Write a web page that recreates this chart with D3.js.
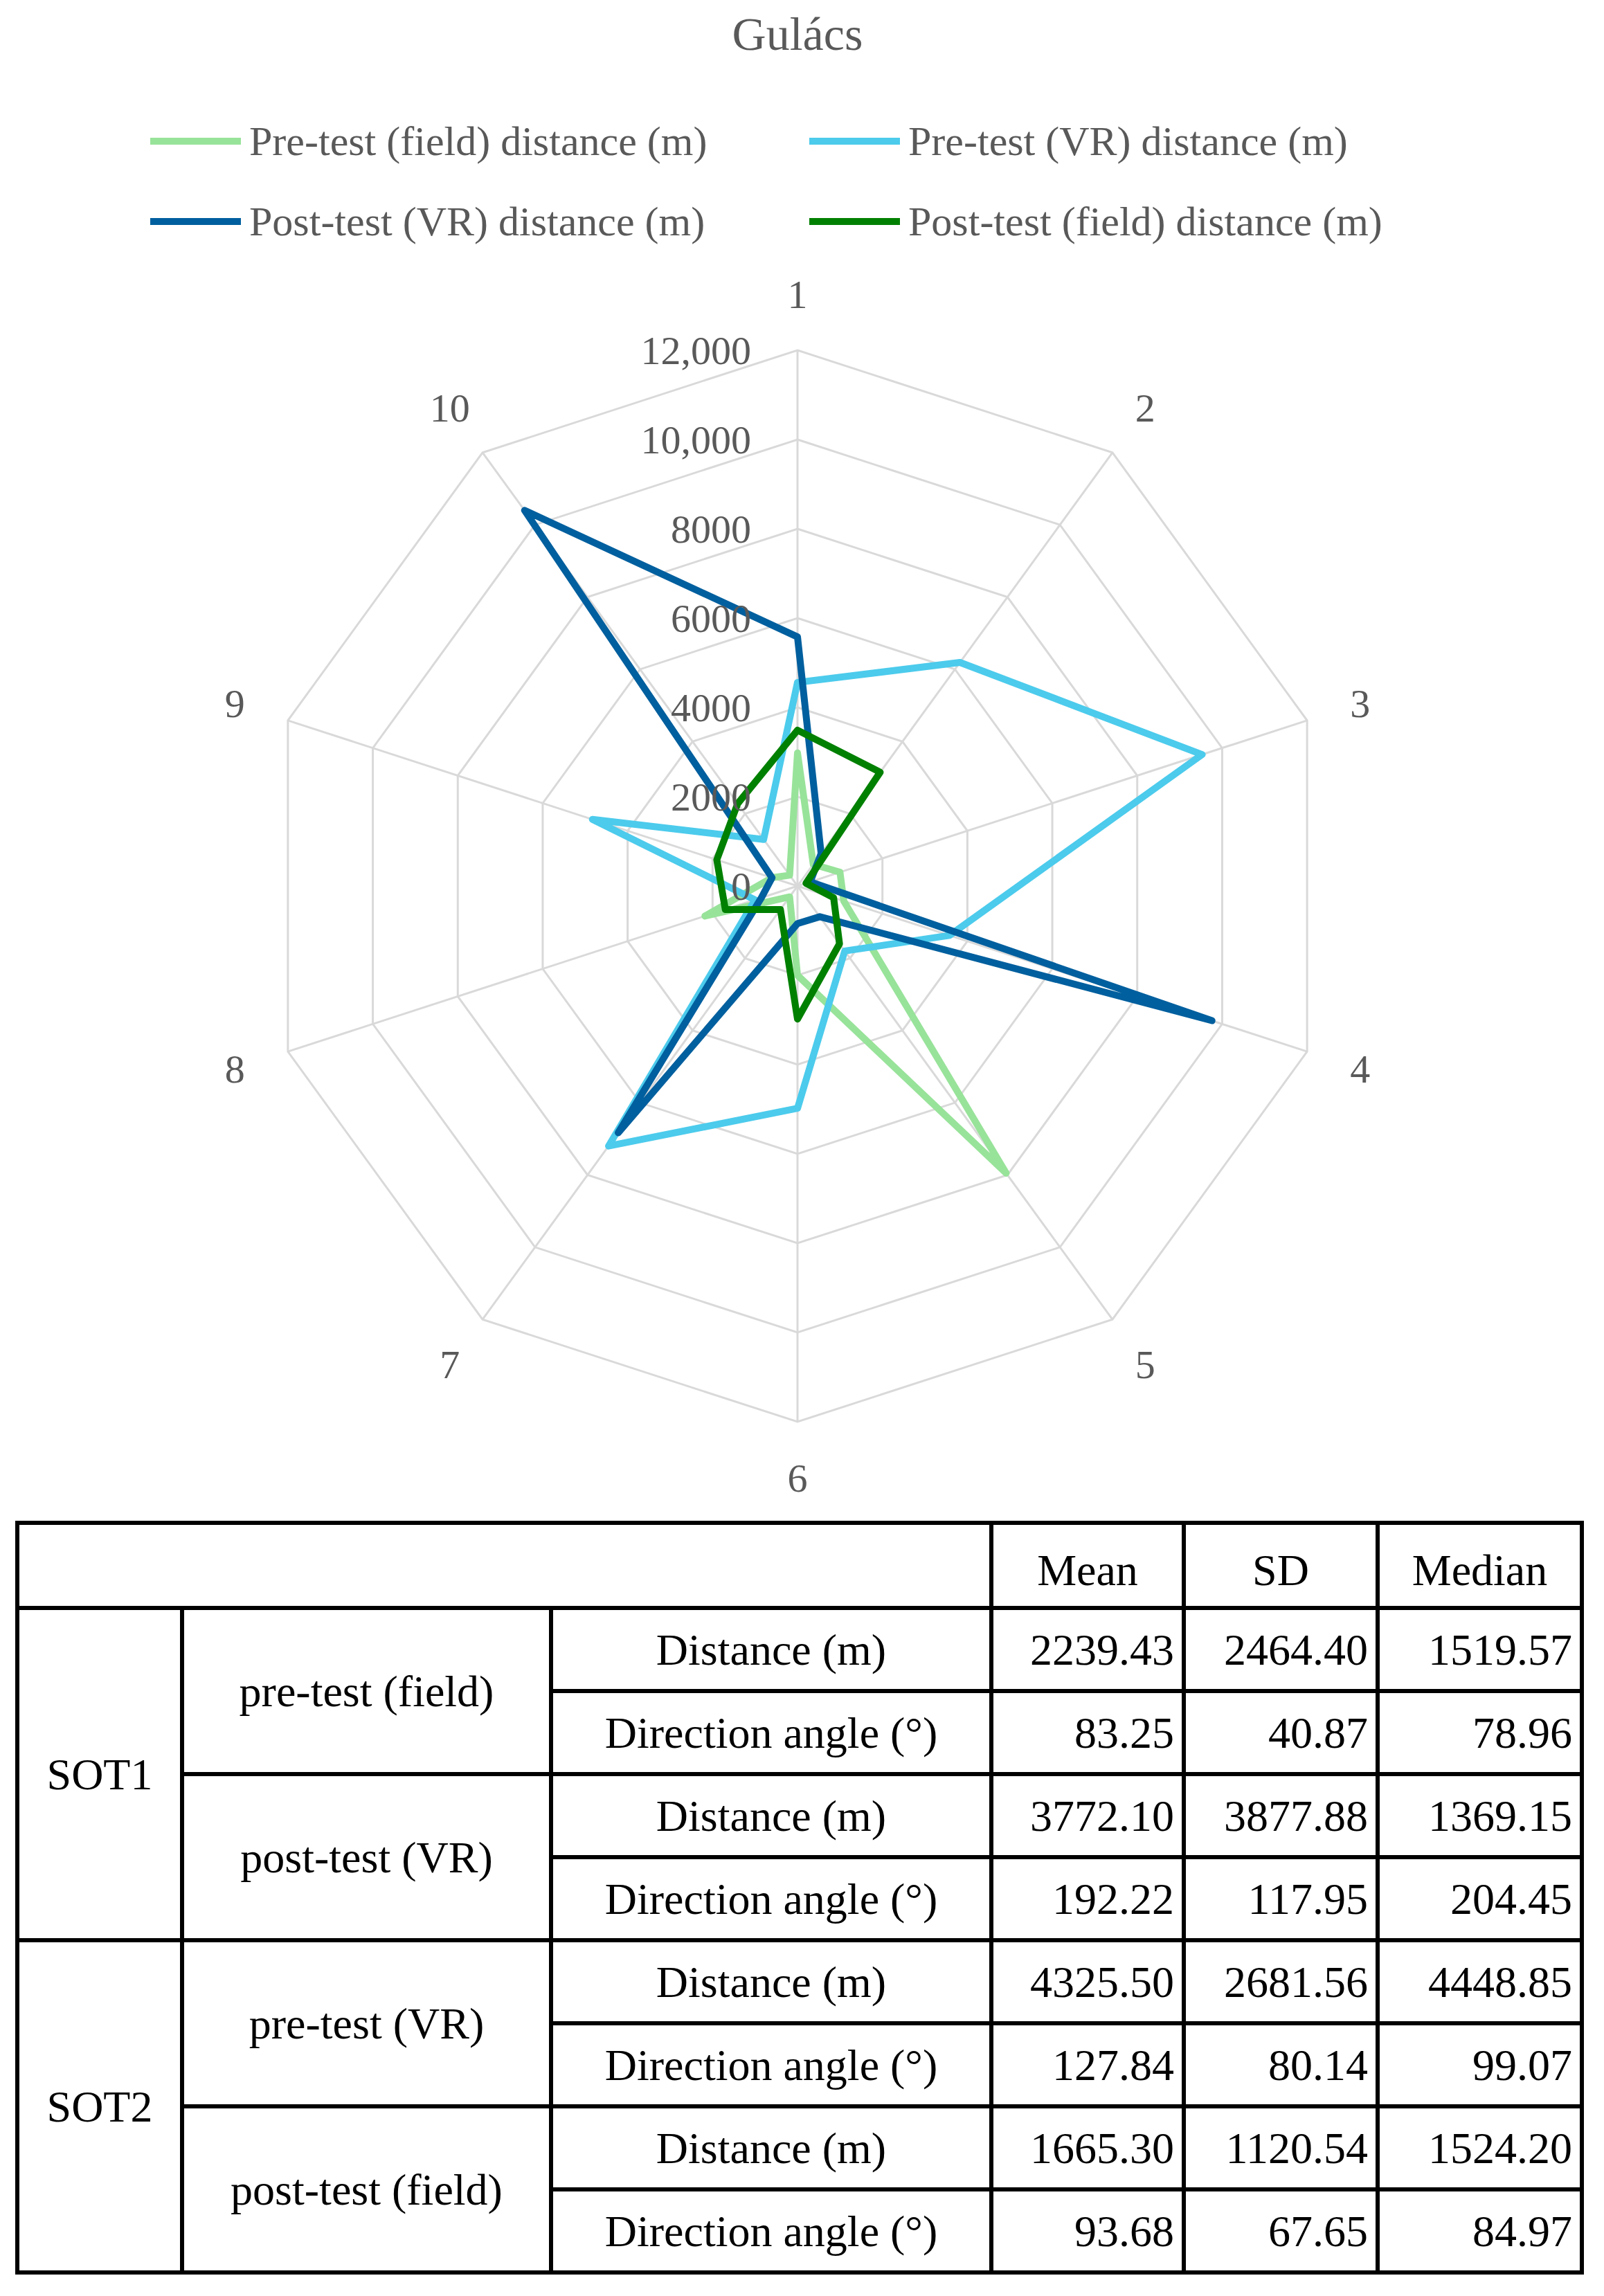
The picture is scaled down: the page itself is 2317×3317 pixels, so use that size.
<!DOCTYPE html>
<html><head><meta charset="utf-8">
<script src="https://cdn.jsdelivr.net/npm/d3@7"></script>
<style>body{margin:0;background:#fff}</style>
</head><body><svg id="chart" width="2317" height="3317"></svg>
<script>
// Chart data
const axes = ["1","2","3","4","5","6","7","8","9","10"];
const preField = [2980, 600, 1000, 1090, 7950, 2000, 300, 2180, 600, 300];
const preVR = [4560, 6190, 9530, 3580, 1800, 4980, 7200, 1000, 4830, 1290];
const postVR = [5580, 900, 300, 9760, 850, 840, 6830, 850, 600, 10400];
const postField = [3490, 3150, 200, 850, 1600, 2980, 650, 1700, 1900, 2280];
const seriesNames = ["Pre-test (field) distance (m)", "Pre-test (VR) distance (m)", "Post-test (VR) distance (m)", "Post-test (field) distance (m)"];
const seriesColors = ["#98e39a", "#4ccbec", "#005f9e", "#008000"];
const ringTicks = [0, 2000, 4000, 6000, 8000, 10000, 12000];

// Table data
const tableHeader = ["Mean", "SD", "Median"];
const groups = ["SOT1", "SOT2"];
const tests = ["pre-test (field)", "post-test (VR)", "pre-test (VR)", "post-test (field)"];
const measures = ["Distance (m)", "Direction angle (°)"];
const tableValues = [
  ["2239.43", "2464.40", "1519.57"],
  ["83.25", "40.87", "78.96"],
  ["3772.10", "3877.88", "1369.15"],
  ["192.22", "117.95", "204.45"],
  ["4325.50", "2681.56", "4448.85"],
  ["127.84", "80.14", "99.07"],
  ["1665.30", "1120.54", "1524.20"],
  ["93.68", "67.65", "84.97"]
];

const svg = d3.select("#chart");
const font = "'Liberation Serif', 'DejaVu Serif', serif";
const grey = "#595959";

svg.append("text").attr("x", 1152).attr("y", 72).attr("text-anchor", "middle")
  .attr("font-family", font).attr("font-size", 68).attr("fill", grey).text("Gulács");

// legend
const legPos = [[217, 204], [1169, 204], [217, 320], [1169, 320]];
seriesNames.forEach((n, i) => {
  const [x, y] = legPos[i];
  svg.append("line").attr("x1", x).attr("x2", x + 131).attr("y1", y).attr("y2", y)
    .attr("stroke", seriesColors[i]).attr("stroke-width", 10);
  svg.append("text").attr("x", x + 143).attr("y", y + 20).attr("font-family", font)
    .attr("font-size", 60).attr("fill", grey).text(n);
});

// radar
const cx = 1152, cy = 1280;
const r = d3.scaleLinear().domain([0, 12000]).range([0, 774]);
const ang = d3.scaleLinear().domain([0, axes.length]).range([0, 2 * Math.PI]);
const pt = (v, i) => [cx + r(v) * Math.sin(ang(i)), cy - r(v) * Math.cos(ang(i))];
const g = svg.append("g");

ringTicks.slice(1).forEach(t => {
  g.append("polygon").attr("points", axes.map((a, i) => pt(t, i).join(",")).join(" "))
    .attr("fill", "none").attr("stroke", "#d9d9d9").attr("stroke-width", 3);
});
axes.forEach((a, i) => {
  const p = pt(12000, i);
  g.append("line").attr("x1", cx).attr("y1", cy).attr("x2", p[0]).attr("y2", p[1])
    .attr("stroke", "#d9d9d9").attr("stroke-width", 3);
  const lp = pt(13250, i);
  g.append("text").attr("x", lp[0]).attr("y", lp[1] + 20).attr("text-anchor", "middle")
    .attr("font-family", font).attr("font-size", 58).attr("fill", grey).text(a);
});

const line = d3.lineRadial().angle((d, i) => ang(i)).radius(d => r(d)).curve(d3.curveLinearClosed);
[preField, preVR, postVR, postField].forEach((s, k) => {
  g.append("path").attr("transform", `translate(${cx},${cy})`).attr("d", line(s))
    .attr("fill", "none").attr("stroke", seriesColors[k]).attr("stroke-width", 10)
    .attr("stroke-linejoin", "round");
});
ringTicks.forEach(t => {
  g.append("text").attr("x", 1085).attr("y", cy - r(t) + 20).attr("text-anchor", "end")
    .attr("font-family", font).attr("font-size", 58).attr("fill", grey)
    .text(t >= 10000 ? d3.format(",")(t) : t);
});

// table
const colX = [25, 263, 796, 1432, 1710, 1990, 2285];
const tableTop = 2200, headH = 123, rowH = 120;
const T = svg.append("g").attr("font-family", font).attr("font-size", 64).attr("fill", "#000");
const rowY = i => tableTop + headH + i * rowH;
const bw = 6;
const hl = (x1, x2, y) => T.append("line").attr("x1", x1).attr("x2", x2).attr("y1", y).attr("y2", y).attr("stroke", "#000").attr("stroke-width", bw);
const vl = (x, y1, y2) => T.append("line").attr("x1", x).attr("x2", x).attr("y1", y1).attr("y2", y2).attr("stroke", "#000").attr("stroke-width", bw);
const bottom = rowY(8);
hl(colX[0] - 3, colX[6] + 3, tableTop); hl(colX[0] - 3, colX[6] + 3, rowY(0)); hl(colX[0] - 3, colX[6] + 3, rowY(4)); hl(colX[0] - 3, colX[6] + 3, bottom);
[1, 2, 3, 5, 6, 7].forEach(i => hl(colX[2], colX[6], rowY(i)));
[2, 6].forEach(i => hl(colX[1], colX[6], rowY(i)));
vl(colX[0], tableTop, bottom); vl(colX[6], tableTop, bottom);
[3, 4, 5].forEach(c => vl(colX[c], tableTop, bottom));
[1, 2].forEach(c => vl(colX[c], rowY(0), bottom));
const txt = (x, y, s, anchor) => T.append("text").attr("x", x).attr("y", y + 22).attr("text-anchor", anchor).text(s);
tableHeader.forEach((h, c) => txt((colX[c + 3] + colX[c + 4]) / 2, tableTop + headH / 2 + 6, h, "middle"));
groups.forEach((gr, i) => txt((colX[0] + colX[1]) / 2, rowY(i * 4 + 2), gr, "middle"));
tests.forEach((t, i) => txt((colX[1] + colX[2]) / 2, rowY(i * 2 + 1), t, "middle"));
tableValues.forEach((row, i) => {
  txt((colX[2] + colX[3]) / 2, rowY(i) + rowH / 2, measures[i % 2], "middle");
  row.forEach((v, c) => txt(colX[c + 4] - 14, rowY(i) + rowH / 2, v, "end"));
});
</script></body></html>
